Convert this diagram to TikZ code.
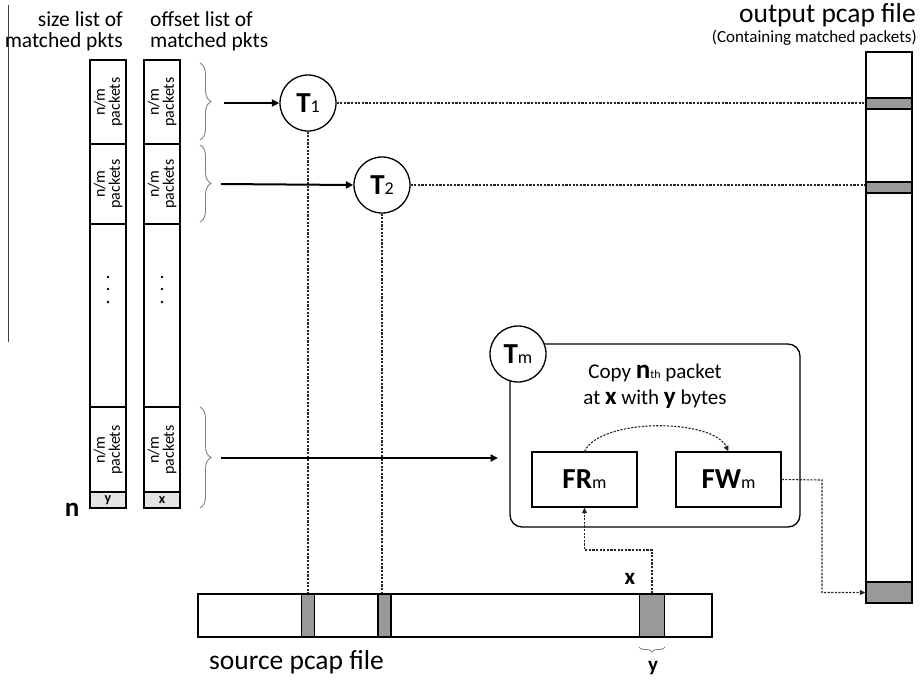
\documentclass[tikz,border=0pt]{standalone}
\usepackage{fontspec}
\setmainfont{Carlito}
\usetikzlibrary{arrows.meta,decorations.pathreplacing}
\definecolor{cellgray}{HTML}{999999}
\definecolor{lightcell}{HTML}{E4E4E4}
\definecolor{bracegray}{HTML}{808080}
\begin{document}
\begin{tikzpicture}[x=1pt,y=-1pt,
  colbox/.style={draw, line width=1.4pt},
  thread/.style={circle, draw, line width=1.3pt, fill=white, minimum size=56pt, inner sep=0pt},
  dline/.style={draw=black!85, line width=1.1pt, dash pattern=on 2.2pt off 1.4pt},
  arr/.style={line width=2pt, -{Triangle[length=7.5pt,width=7pt]}},
  darr/.style={dline, -{Triangle[length=5.5pt,width=5pt]}},
  brc/.style={draw=bracegray, line width=0.9pt, decorate, decoration={brace, amplitude=11pt}},
  seglabel/.style={rotate=90, align=center, font=\fontsize{16}{15}\selectfont},
  fbox/.style={draw, line width=1.3pt, minimum width=105pt, minimum height=55pt, inner sep=0pt},
  head/.style={font=\fontsize{21.5}{19}\selectfont, inner sep=0pt},
]
\useasboundingbox (0,0) rectangle (921,681);

% left margin line
\draw[line width=1pt, black!75] (8,5) -- (8,342);

% headers (one node per line)
\node[head, anchor=base east] (hsize1) at (123,26) {size list of};
\node[head, anchor=base east] (hsize2) at (123,47) {matched pkts};
\node[head, anchor=base west] (hoff1) at (150,26) {offset list of};
\node[head, anchor=base west] (hoff2) at (150,47) {matched pkts};
\node[font=\fontsize{27.5}{27.5}\selectfont, anchor=base east, inner sep=0pt] (hout) at (916,22) {output pcap file};
\node[font=\fontsize{17}{17}\selectfont, anchor=base east, inner sep=0pt] (hcont) at (917,42) {(Containing matched packets)};
\node[font=\fontsize{27.5}{27.5}\selectfont, anchor=base west, inner sep=0pt] (hsrc) at (209,669) {source pcap file};

% the two lists
\foreach \xa/\xb in {90/126,144/180}{
  \fill[lightcell] (\xa,492) rectangle (\xb,508);
  \draw[colbox] (\xa,60) rectangle (\xb,508);
  \foreach \yy in {144,224,407,492} \draw[line width=1.2pt] (\xa,\yy) -- (\xb,\yy);
}
\foreach \xc/\nm in {108/s,162/o}{
  \node[seglabel] (\nm1) at (\xc,102) {n/m\\packets};
  \node[seglabel] (\nm2) at (\xc,184) {n/m\\packets};
  \node[seglabel] (\nm3) at (\xc,450) {n/m\\packets};
  \foreach \yy in {277,289,302} \fill (\xc,\yy) circle (1.4pt);
}
\node[font=\fontsize{14}{14}\selectfont\bfseries, inner sep=0pt] (ycell) at (108,500) {y};
\node[font=\fontsize{14}{14}\selectfont\bfseries, inner sep=0pt] (xcell) at (162,500) {x};
\node[font=\fontsize{27}{27}\selectfont\bfseries, inner sep=0pt] (nlab) at (72,510) {n};

% braces
\draw[brc] (200,63) -- (200,140);
\draw[brc] (200,145) -- (200,222);
\draw[brc] (200,407) -- (200,508);
\coordinate (b1) at (224,103);
\coordinate (b2) at (221,184);
\coordinate (b3) at (221,458);

% source pcap file
\draw[colbox, line width=1.3pt] (198,594) rectangle (712,637);
\node[draw, line width=1.3pt, fill=cellgray, minimum width=13pt, minimum height=43pt, inner sep=0pt] (c1) at (308,615.5) {};
\node[draw, line width=1.3pt, fill=cellgray, minimum width=13pt, minimum height=43pt, inner sep=0pt] (c2) at (384.5,615.5) {};
\node[draw, line width=1.3pt, fill=cellgray, minimum width=25pt, minimum height=43pt, inner sep=0pt] (c3) at (652,615.5) {};
\node[font=\fontsize{23}{23}\selectfont\bfseries, inner sep=0pt] (xlab) at (630,579) {x};
\draw[draw=bracegray, line width=0.9pt, decorate, decoration={brace, amplitude=5pt}] (665,647) -- (639,647);
\node[font=\fontsize{21}{21}\selectfont\bfseries, inner sep=0pt] (ylab) at (653,668) {y};

% output pcap file
\draw[colbox, line width=1.3pt] (866,52) rectangle (912,603);
\node[draw, line width=1.3pt, fill=cellgray, minimum width=46pt, minimum height=11pt, inner sep=0pt] (o1) at (889,103.5) {};
\node[draw, line width=1.3pt, fill=cellgray, minimum width=46pt, minimum height=11pt, inner sep=0pt] (o2) at (889,187.5) {};
\node[draw, line width=1.3pt, fill=cellgray, minimum width=46pt, minimum height=21pt, inner sep=0pt] (o3) at (889,592.5) {};

% Tm container
\draw[line width=1.3pt, rounded corners=12pt] (510,344) rectangle (800,527);
\node[align=center, inner sep=0pt, font=\fontsize{21}{26}\selectfont] (copy) at (655,386)
  {Copy {\fontsize{27}{26}\selectfont\bfseries n}{\fontsize{12}{12}\selectfont th} packet\\
   at {\fontsize{25}{24}\selectfont\bfseries x} with {\fontsize{25}{24}\selectfont\bfseries y} bytes};
\node[fbox] (FR) at (584.5,479.5) {{\fontsize{29}{29}\selectfont\bfseries FR}{\fontsize{18}{18}\selectfont m}};
\node[fbox] (FW) at (728.5,479.5) {{\fontsize{29}{29}\selectfont\bfseries FW}{\fontsize{18}{18}\selectfont m}};

% threads
\node[thread] (T1) at (308,103) {{\fontsize{29}{29}\selectfont\bfseries T}{\fontsize{18}{18}\selectfont 1}};
\node[thread] (T2) at (382,185) {{\fontsize{29}{29}\selectfont\bfseries T}{\fontsize{18}{18}\selectfont 2}};
\node[thread] (Tm) at (518,354) {{\fontsize{29}{29}\selectfont\bfseries T}{\fontsize{18}{18}\selectfont m}};

% dashed connectors
\draw[dline] (T1.south) -- (T1.south |- c1.north);
\draw[dline] (T2.south) -- (T2.south |- c2.north);
\draw[dline] (T1.east) -- (T1.east -| o1.west);
\draw[dline] (T2.east) -- (T2.east -| o2.west);
\draw[darr] (FR.north) .. controls (600,418) and (712,418) .. (FW.north);
\coordinate (bend1) at (652,550);
\draw[darr] (c3.north) -- (bend1) -| (FR.south);
\coordinate (bend2) at (822,480);
\draw[darr] (FW.east) -- (bend2) |- (o3.west);

% solid arrows
\draw[arr] (b1) -- (T1.west);
\draw[arr] (b2) -- (T2.west);
\coordinate (a3) at (498,458);
\draw[arr] (b3) -- (a3);
\end{tikzpicture}
\end{document}
